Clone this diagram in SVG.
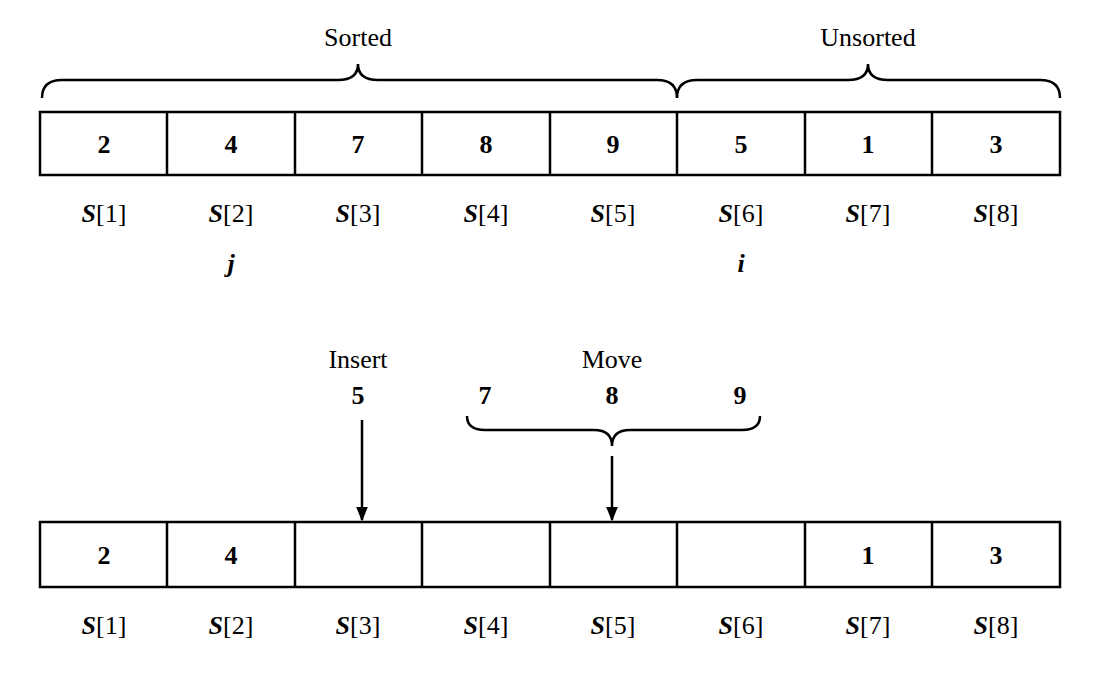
<svg xmlns="http://www.w3.org/2000/svg" width="1100" height="682" viewBox="0 0 1100 682">
<defs>
<style>
.c{fill:#fff;stroke:#000;stroke-width:2.5}
.t{font-family:"Liberation Serif",serif;font-size:26px;font-weight:bold;text-anchor:middle}
.l{font-family:"Liberation Serif",serif;font-size:26px;text-anchor:middle}
.b{fill:none;stroke:#000;stroke-width:2.5}
</style>
<marker id="a" viewBox="0 0 10 10" refX="9" refY="5" markerWidth="6" markerHeight="6" orient="auto"><path d="M0,1 L10,5 L0,9 z"/></marker>
</defs>
<g id="top">
<rect class="c" x="40" y="112" width="1020" height="63"/>
<g class="b"><path d="M167,112V175M295,112V175M422,112V175M550,112V175M677,112V175M805,112V175M932,112V175"/></g>
<text class="t" x="104" y="153">2</text><text class="t" x="231" y="153">4</text><text class="t" x="358" y="153">7</text><text class="t" x="486" y="153">8</text><text class="t" x="613" y="153">9</text><text class="t" x="741" y="153">5</text><text class="t" x="868" y="153">1</text><text class="t" x="996" y="153">3</text>
<g class="l"><text x="104" y="222"><tspan font-style="italic" font-weight="bold">S</tspan>[1]</text><text x="231" y="222"><tspan font-style="italic" font-weight="bold">S</tspan>[2]</text><text x="358" y="222"><tspan font-style="italic" font-weight="bold">S</tspan>[3]</text><text x="486" y="222"><tspan font-style="italic" font-weight="bold">S</tspan>[4]</text><text x="613" y="222"><tspan font-style="italic" font-weight="bold">S</tspan>[5]</text><text x="741" y="222"><tspan font-style="italic" font-weight="bold">S</tspan>[6]</text><text x="868" y="222"><tspan font-style="italic" font-weight="bold">S</tspan>[7]</text><text x="996" y="222"><tspan font-style="italic" font-weight="bold">S</tspan>[8]</text></g>
<text class="l" x="231" y="272" font-style="italic" font-weight="bold">j</text>
<text class="l" x="741" y="272" font-style="italic" font-weight="bold">i</text>
</g>
<g id="braces-top">
<text class="l" x="358" y="46">Sorted</text>
<text class="l" x="868" y="46">Unsorted</text>
<path class="b" d="M42,98 Q42,80 62,80 H338 Q358,80 358,64 Q358,80 378,80 H657 Q677,80 677,98"/>
<path class="b" d="M677,98 Q677,80 697,80 H848 Q868,80 868,64 Q868,80 888,80 H1040 Q1060,80 1060,98"/>
</g>
<g id="labels-bottom">
<text class="l" x="358" y="368">Insert</text>
<text class="t" x="358" y="404">5</text>
<text class="l" x="612" y="368">Move</text>
<text class="t" x="485" y="404">7</text><text class="t" x="612" y="404">8</text><text class="t" x="740" y="404">9</text>
<path class="b" d="M467,416 Q467,430 485,430 H594 Q612,430 612,446 Q612,430 630,430 H742 Q760,430 760,416"/>
</g>
<g id="connectors">
<line class="b" x1="362" y1="420" x2="362" y2="520" marker-end="url(#a)"/>
<line class="b" x1="612" y1="456" x2="612" y2="520" marker-end="url(#a)"/>
</g>
<g id="bottom">
<rect class="c" x="40" y="522" width="1020" height="65"/>
<path class="b" d="M167,522V587M295,522V587M422,522V587M550,522V587M677,522V587M805,522V587M932,522V587"/>
<text class="t" x="104" y="564">2</text><text class="t" x="231" y="564">4</text><text class="t" x="868" y="564">1</text><text class="t" x="996" y="564">3</text>
<g class="l"><text x="104" y="634"><tspan font-style="italic" font-weight="bold">S</tspan>[1]</text><text x="231" y="634"><tspan font-style="italic" font-weight="bold">S</tspan>[2]</text><text x="358" y="634"><tspan font-style="italic" font-weight="bold">S</tspan>[3]</text><text x="486" y="634"><tspan font-style="italic" font-weight="bold">S</tspan>[4]</text><text x="613" y="634"><tspan font-style="italic" font-weight="bold">S</tspan>[5]</text><text x="741" y="634"><tspan font-style="italic" font-weight="bold">S</tspan>[6]</text><text x="868" y="634"><tspan font-style="italic" font-weight="bold">S</tspan>[7]</text><text x="996" y="634"><tspan font-style="italic" font-weight="bold">S</tspan>[8]</text></g>
</g>
</svg>
